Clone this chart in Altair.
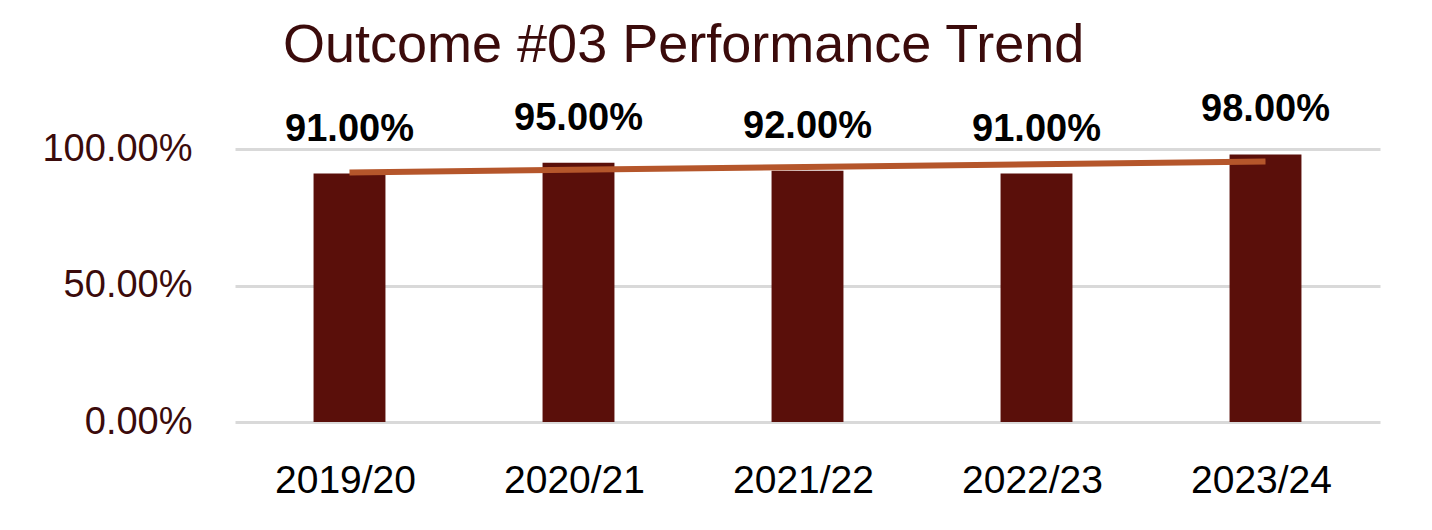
import altair as alt
import pandas as pd

years = ["2019/20", "2020/21", "2021/22", "2022/23", "2023/24"]
values = [91.0, 95.0, 92.0, 91.0, 98.0]
idx = [0, 1, 2, 3, 4]

df = pd.DataFrame({"year": years, "v": values, "idx": idx})

FONT = "Liberation Sans"
years_js = "[" + ",".join("'" + y + "'" for y in years) + "]"

x = alt.X("year:N", sort=years, title=None,
          scale=alt.Scale(paddingInner=0.686, paddingOuter=0.343),
          axis=alt.Axis(labelAngle=0, labelFont=FONT, labelFontSize=39,
                        labelColor="#000000", labelPadding=39, ticks=False,
                        tickSize=0, domain=False, grid=False, labelOffset=-4))
y = alt.Y("v:Q", title=None,
          scale=alt.Scale(domain=[0, 100], nice=False),
          axis=alt.Axis(values=[0, 50, 100], labelExpr="format(datum.value, '.2f') + '%'",
                        labelFont=FONT, labelFontSize=38, labelColor="#3b0b0b",
                        labelPadding=43, ticks=False, tickSize=0, domain=False,
                        grid=True, gridColor="#d9d9d9", gridWidth=3))

base = alt.Chart(df)

bars = base.mark_bar(color="#5a0f0a").encode(x=x, y=y)

labels = base.mark_text(font=FONT, fontSize=38, fontWeight="bold", color="#000000",
                        baseline="alphabetic", dy=-33).encode(
    x=alt.X("year:N", sort=years),
    y="v:Q",
    text=alt.Text("label:N"),
).transform_calculate(label="format(datum.v, '.2f') + '%'")

trend = base.transform_regression("idx", "v", extent=[0, 4]).transform_calculate(
    year=years_js + "[round(datum.idx)]"
).mark_line(color="#b5562b", strokeWidth=6).encode(
    x=alt.X("year:N", sort=years),
    y="v:Q",
)

chart = alt.layer(bars, trend, labels).properties(
    width=1145,
    height=273,
    padding={"left": 227, "top": 141, "right": 40, "bottom": 110},
    autosize=alt.AutoSizeParams(type="none"),
    title=alt.TitleParams("Outcome #03 Performance Trend", anchor="start", frame="group",
                          font=FONT, fontSize=54, fontWeight="normal", color="#3b0b0b",
                          baseline="alphabetic", dx=48, dy=25, offset=0),
).configure_view(stroke=None)

chart.save("out.html", embed_options={"renderer": "svg", "actions": False})
